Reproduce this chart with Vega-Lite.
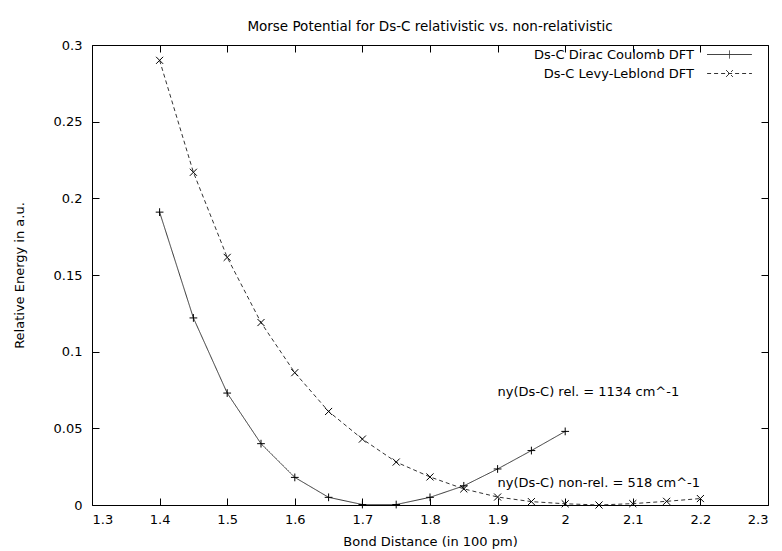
{
  "$schema": "https://vega.github.io/schema/vega-lite/v6.json",
  "width": 676,
  "height": 460,
  "autosize": {"type": "none"},
  "padding": {"left": 92, "top": 45, "right": 14, "bottom": 46},
  "background": "#ffffff",
  "title": {"text": "Morse Potential for Ds-C relativistic vs. non-relativistic", "font": "DejaVu Sans", "fontSize": 13.5, "fontWeight": "normal", "color": "#000", "offset": 8, "dy": 2},
  "datasets": {
    "curves": [
      {"series": "Ds-C Dirac Coulomb DFT", "x": 1.40, "y": 0.191},
      {"series": "Ds-C Dirac Coulomb DFT", "x": 1.45, "y": 0.122},
      {"series": "Ds-C Dirac Coulomb DFT", "x": 1.50, "y": 0.073},
      {"series": "Ds-C Dirac Coulomb DFT", "x": 1.55, "y": 0.040},
      {"series": "Ds-C Dirac Coulomb DFT", "x": 1.60, "y": 0.018},
      {"series": "Ds-C Dirac Coulomb DFT", "x": 1.65, "y": 0.005},
      {"series": "Ds-C Dirac Coulomb DFT", "x": 1.70, "y": 0.0003},
      {"series": "Ds-C Dirac Coulomb DFT", "x": 1.75, "y": 0.0003},
      {"series": "Ds-C Dirac Coulomb DFT", "x": 1.80, "y": 0.005},
      {"series": "Ds-C Dirac Coulomb DFT", "x": 1.85, "y": 0.0125},
      {"series": "Ds-C Dirac Coulomb DFT", "x": 1.90, "y": 0.0235},
      {"series": "Ds-C Dirac Coulomb DFT", "x": 1.95, "y": 0.0355},
      {"series": "Ds-C Dirac Coulomb DFT", "x": 2.00, "y": 0.048},
      {"series": "Ds-C Levy-Leblond DFT", "x": 1.40, "y": 0.290},
      {"series": "Ds-C Levy-Leblond DFT", "x": 1.45, "y": 0.217},
      {"series": "Ds-C Levy-Leblond DFT", "x": 1.50, "y": 0.1615},
      {"series": "Ds-C Levy-Leblond DFT", "x": 1.55, "y": 0.119},
      {"series": "Ds-C Levy-Leblond DFT", "x": 1.60, "y": 0.0863},
      {"series": "Ds-C Levy-Leblond DFT", "x": 1.65, "y": 0.061},
      {"series": "Ds-C Levy-Leblond DFT", "x": 1.70, "y": 0.043},
      {"series": "Ds-C Levy-Leblond DFT", "x": 1.75, "y": 0.028},
      {"series": "Ds-C Levy-Leblond DFT", "x": 1.80, "y": 0.0183},
      {"series": "Ds-C Levy-Leblond DFT", "x": 1.85, "y": 0.0105},
      {"series": "Ds-C Levy-Leblond DFT", "x": 1.90, "y": 0.0052},
      {"series": "Ds-C Levy-Leblond DFT", "x": 1.95, "y": 0.0022},
      {"series": "Ds-C Levy-Leblond DFT", "x": 2.00, "y": 0.0008},
      {"series": "Ds-C Levy-Leblond DFT", "x": 2.05, "y": 0.0},
      {"series": "Ds-C Levy-Leblond DFT", "x": 2.10, "y": 0.0009},
      {"series": "Ds-C Levy-Leblond DFT", "x": 2.15, "y": 0.0024},
      {"series": "Ds-C Levy-Leblond DFT", "x": 2.20, "y": 0.0042}
    ],
    "notes": [
      {"x": 1.9, "y": 0.074, "label": "ny(Ds-C) rel. = 1134 cm^-1"},
      {"x": 1.9, "y": 0.0145, "label": "ny(Ds-C) non-rel. = 518 cm^-1"}
    ]
  },
  "layer": [
    {
      "data": {"name": "curves"},
      "mark": {"type": "line", "strokeWidth": 1, "color": "#333"},
      "encoding": {
        "x": {"field": "x", "type": "quantitative", "scale": {"domain": [1.3, 2.3], "nice": false, "zero": false},
              "axis": {"orient": "bottom", "values": [1.3, 1.4, 1.5, 1.6, 1.7, 1.8, 1.9, 2.0, 2.1, 2.2, 2.3], "format": "~g", "title": "Bond Distance (in 100 pm)", "labelPadding": 15, "titlePadding": 9}},
        "y": {"field": "y", "type": "quantitative", "scale": {"domain": [0, 0.3], "nice": false},
              "axis": {"orient": "left", "values": [0, 0.05, 0.1, 0.15, 0.2, 0.25, 0.3], "format": "~g", "title": "Relative Energy in a.u.", "labelPadding": 17, "titlePadding": 27}},
        "strokeDash": {"field": "series", "type": "nominal",
          "scale": {"domain": ["Ds-C Dirac Coulomb DFT", "Ds-C Levy-Leblond DFT"], "range": [[1, 0], [4, 3]]},
          "legend": {"orient": "none", "legendX": 631, "legendY": 3, "title": null, "labelAlign": "right", "labelOffset": -42,
            "symbolSize": 64, "symbolStrokeWidth": 1, "symbolStrokeColor": "#333", "symbolFillColor": "transparent",
            "labelFont": "DejaVu Sans", "labelFontSize": 13, "labelColor": "#000", "rowPadding": 5, "labelLimit": 400,
            "encode": {"symbols": {"update": {"shape": {"signal": "datum.value === 'Ds-C Dirac Coulomb DFT' ? 'M-5.6,0H5.6M0,-1V1' : 'M-5.6,0H5.6M-0.85,-0.85L0.85,0.85M-0.85,0.85L0.85,-0.85'"}}}}}
        }
      }
    },
    {
      "data": {"name": "curves"},
      "transform": [{"filter": "datum.series === 'Ds-C Dirac Coulomb DFT'"}],
      "mark": {"type": "point", "shape": "M-1,0H1M0,-1V1", "filled": false, "strokeWidth": 1, "color": "#000", "size": 60, "opacity": 1},
      "encoding": {
        "x": {"field": "x", "type": "quantitative", "scale": {"domain": [1.3, 2.3], "nice": false, "zero": false},
              "axis": {"orient": "top", "values": [1.3, 1.4, 1.5, 1.6, 1.7, 1.8, 1.9, 2.0, 2.1, 2.2, 2.3], "labels": false, "title": null}},
        "y": {"field": "y", "type": "quantitative", "scale": {"domain": [0, 0.3], "nice": false},
              "axis": {"orient": "right", "values": [0, 0.05, 0.1, 0.15, 0.2, 0.25, 0.3], "labels": false, "title": null}}
      }
    },
    {
      "data": {"name": "curves"},
      "transform": [{"filter": "datum.series === 'Ds-C Levy-Leblond DFT'"}],
      "mark": {"type": "point", "shape": "M-1,-1L1,1M-1,1L1,-1", "filled": false, "strokeWidth": 1, "color": "#000", "size": 50, "opacity": 1},
      "encoding": {
        "x": {"field": "x", "type": "quantitative", "axis": null},
        "y": {"field": "y", "type": "quantitative", "axis": null}
      }
    },
    {
      "data": {"name": "notes"},
      "mark": {"type": "text", "align": "left", "baseline": "middle", "font": "DejaVu Sans", "fontSize": 13, "color": "#000"},
      "encoding": {
        "x": {"field": "x", "type": "quantitative", "axis": null},
        "y": {"field": "y", "type": "quantitative", "axis": null},
        "text": {"field": "label"}
      }
    }
  ],
  "config": {
    "view": {"stroke": "#000", "strokeWidth": 1},
    "axis": {"domain": false, "grid": false, "tickSize": -7, "tickColor": "#000", "tickWidth": 1,
             "labelFont": "DejaVu Sans", "labelFontSize": 13, "labelColor": "#000",
             "titleFont": "DejaVu Sans", "titleFontSize": 13, "titleFontWeight": "normal", "titleColor": "#000"}
  }
}
